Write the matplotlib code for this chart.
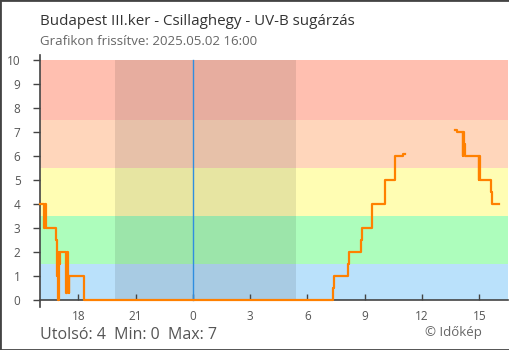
import matplotlib.pyplot as plt
import matplotlib.patches as mpatches

plt.rcParams['font.family'] = ['Open Sans', 'DejaVu Sans']

# hours relative to midnight (negative = previous day)
t_first = [-8.0, -7.78, -7.75, -7.68, -7.66, -7.16, -7.10, -7.05, -7.03, -6.98, -6.95,
           -6.62, -6.59, -6.55, -6.50, -6.47, -5.68, 7.33, 7.39, 8.14, 8.17, 8.82,
           8.85, 9.37, 10.05, 10.60, 10.98, 11.12]
uv_first = [4, 3, 4, 3.5, 3, 2.5, 1, 0, 2, 1.5, 2,
            0.3, 2, 1, 0.3, 1, 0, 0.5, 1, 1.5, 2, 2.5,
            3, 4, 5, 6, 6.06, 6.06]
t_second = [13.72, 13.84, 14.13, 14.17, 14.21, 14.26, 14.96, 15.00, 15.06, 15.60, 15.65, 16.05]
uv_second = [7.06, 7, 6, 7, 6.5, 6, 5, 6, 5, 4.5, 4, 4]

band_edges = [0, 1.5, 3.5, 5.5, 7.5, 10]
band_colors = ['#bae1fb', '#adfdbc', '#fffdb3', '#ffd6bb', '#ffbfb0']
night = (-4.08, 5.38)
xticks = [-6, -3, 0, 3, 6, 9, 12, 15]
xlabels = ['18', '21', '0', '3', '6', '9', '12', '15']

fig = plt.figure(figsize=(5.1, 3.5), dpi=100)
ax = fig.add_axes([40/510, 1 - 306.7/350, 468/510, (306.7 - 55)/350])

xmin, xmax = -8, 16.5
for i in range(len(band_colors)):
    ax.fill_between([xmin, xmax], band_edges[i], band_edges[i+1], color=band_colors[i], lw=0, zorder=0)
ax.fill_between(list(night), 0, 10, color='black', alpha=0.095, lw=0, zorder=1)
ax.plot([0, 0], [0, 10], color='#2f8ee0', lw=1.0, zorder=2)

ax.plot(t_first, uv_first, drawstyle='steps-post', color='#ff8000', lw=1.6, zorder=4, clip_on=False)
ax.plot(t_second, uv_second, drawstyle='steps-post', color='#ff8000', lw=1.6, zorder=4, clip_on=False)

ax.set_xlim(xmin, xmax)
ax.set_ylim(-0.28, 10.2)
ax.set_facecolor('white')
for s in ['top', 'right']:
    ax.spines[s].set_visible(False)
ax.spines['bottom'].set_position(('data', 0))
for s in ['bottom', 'left']:
    ax.spines[s].set_color('#444444')
    ax.spines[s].set_linewidth(1.2)
    ax.spines[s].set_zorder(3)

ax.set_yticks(range(0, 11))
ax.set_xticks(xticks)
ax.set_xticklabels(xlabels)
ax.tick_params(axis='y', direction='out', length=5, width=1, color='#444444',
               labelcolor='#555555', labelsize=8.5, pad=9)
ax.tick_params(axis='x', direction='in', length=4.3, width=1, color='#444444',
               labelcolor='#555555', labelsize=8.5, pad=7)

fig.text(40/510, 1 - 25/350, 'Budapest III.ker - Csillaghegy - UV-B sugárzás',
         fontsize=10.9, color='#333333', va='baseline', ha='left')
fig.text(40/510, 1 - 45/350, 'Grafikon frissítve: 2025.05.02 16:00',
         fontsize=9.5, color='#666666', va='baseline', ha='left')
fig.text(40/510, 1 - 339/350, 'Utolsó: 4  Min: 0  Max: 7',
         fontsize=11.5, color='#555555', va='baseline', ha='left')
fig.text(482/510, 1 - 336/350, '© Időkép',
         fontsize=9.5, color='#666666', va='baseline', ha='right')

fig.patches.append(mpatches.Rectangle((0, 0), 1, 1, transform=fig.transFigure,
                                      fill=False, edgecolor='#444444', lw=2))

fig.savefig('out.png', dpi=100)
